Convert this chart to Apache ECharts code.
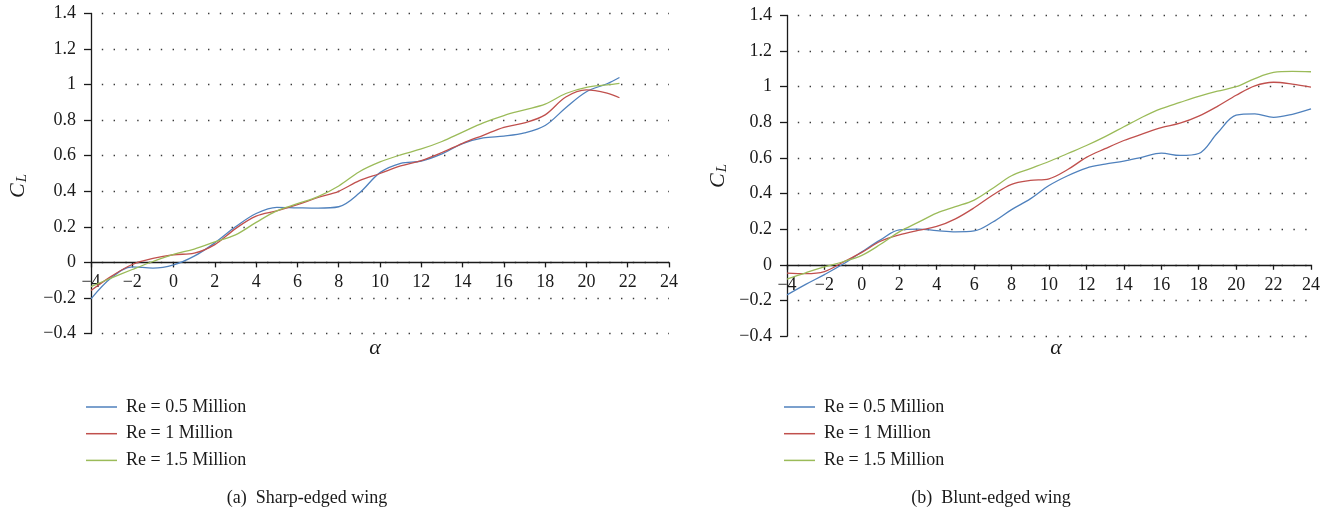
<!DOCTYPE html>
<html>
<head>
<meta charset="utf-8">
<title>Lift coefficient vs angle of attack</title>
<script src="https://cdn.jsdelivr.net/npm/echarts@6/dist/echarts.min.js"></script>
<style>
  html, body { margin: 0; padding: 0; background: #fff; }
  #chart { width: 1333px; height: 516px; }
</style>
</head>
<body>
<div id="chart"></div>
<script>
// Angle of attack (deg) sample points
const alphaSharp = [-4, -3, -2, -1, 0, 1, 2, 3, 4, 5, 6, 7, 8, 9, 10, 11, 12, 13, 14, 15, 16, 17, 18, 19, 20, 21, 21.6];
const alphaBlunt = [-4, -3, -2, -1, 0, 1, 2, 3, 4, 5, 6, 7, 8, 9, 10, 11, 12, 13, 14, 15, 16, 17, 18, 19, 20, 21, 22, 23, 24];

// Lift coefficient, sharp-edged wing
const sharpRe05 = [-0.205, -0.085, -0.025, -0.032, -0.014, 0.035, 0.11, 0.2, 0.275, 0.31, 0.307, 0.305, 0.313, 0.39, 0.505, 0.557, 0.57, 0.61, 0.668, 0.7, 0.71, 0.728, 0.77, 0.87, 0.96, 1.005, 1.04];
const sharpRe10 = [-0.158, -0.077, -0.012, 0.022, 0.043, 0.052, 0.1, 0.19, 0.26, 0.29, 0.325, 0.365, 0.4, 0.46, 0.5, 0.543, 0.573, 0.618, 0.67, 0.715, 0.76, 0.785, 0.83, 0.93, 0.97, 0.952, 0.926];
const sharpRe15 = [-0.136, -0.087, -0.04, 0.005, 0.045, 0.075, 0.115, 0.155, 0.225, 0.29, 0.33, 0.37, 0.43, 0.51, 0.565, 0.605, 0.638, 0.68, 0.733, 0.785, 0.826, 0.858, 0.89, 0.95, 0.985, 0.998, 1.007];

// Lift coefficient, blunt-edged wing
const bluntRe05 = [-0.169, -0.11, -0.055, 0.004, 0.073, 0.14, 0.196, 0.2, 0.192, 0.185, 0.19, 0.24, 0.31, 0.37, 0.445, 0.5, 0.543, 0.565, 0.582, 0.605, 0.627, 0.614, 0.625, 0.74, 0.84, 0.848, 0.828, 0.845, 0.875];
const bluntRe10 = [-0.047, -0.05, -0.038, 0.015, 0.07, 0.132, 0.168, 0.193, 0.215, 0.258, 0.32, 0.392, 0.452, 0.474, 0.483, 0.535, 0.603, 0.652, 0.698, 0.735, 0.77, 0.795, 0.835, 0.89, 0.952, 1.005, 1.025, 1.015, 0.998];
const bluntRe15 = [-0.08, -0.045, -0.012, 0.017, 0.053, 0.115, 0.185, 0.238, 0.29, 0.326, 0.363, 0.43, 0.5, 0.54, 0.58, 0.625, 0.67, 0.72, 0.775, 0.83, 0.877, 0.912, 0.946, 0.975, 1.0, 1.046, 1.08, 1.086, 1.084];

const seriesNames = ['Re = 0.5 Million', 'Re = 1 Million', 'Re = 1.5 Million'];
const seriesColors = ['#4f81bd', '#c0504d', '#9bbb59'];
const captions = ['(a)  Sharp-edged wing', '(b)  Blunt-edged wing'];

const Y_MIN = -0.4, Y_MAX = 1.4;
const SERIF = '"Liberation Serif", "DejaVu Serif", serif';
const INK = '#1a1a1a';
const minus = v => String(v).replace('-', '\u2212');
const zip = (xs, ys) => xs.map((x, i) => [x, ys[i]]);

const grids = [
  { left: 91, top: 13.5, width: 578, height: 320 },
  { left: 787, top: 15.5, width: 524, height: 320.5 }
];

// The alpha axis crosses at C_L = 0, labels travel with it
function xAxisCfg(idx) {
  const h = grids[idx].height;
  return {
    gridIndex: idx, type: 'value', min: -4, max: 24, interval: 2,
    position: 'bottom',
    offset: -h * (0 - Y_MIN) / (Y_MAX - Y_MIN),
    axisLine: { onZero: false, lineStyle: { color: INK, width: 1.3 } },
    axisTick: { show: true, length: 5, inside: false, lineStyle: { color: INK, width: 1.3 } },
    axisLabel: { margin: 11, fontFamily: SERIF, fontSize: 18, color: INK, formatter: minus },
    splitLine: { show: false }
  };
}
function yAxisCfg(idx) {
  return {
    gridIndex: idx, type: 'value', min: Y_MIN, max: Y_MAX, interval: 0.2,
    axisLine: { show: true, onZero: false, lineStyle: { color: INK, width: 1.3 } },
    axisTick: { show: true, length: 7, lineStyle: { color: INK, width: 1.3 } },
    axisLabel: { margin: 15, fontFamily: SERIF, fontSize: 18, color: INK, formatter: minus },
    splitLine: { show: true, lineStyle: { color: '#3a3a3a', width: 1.4, type: [1.4, 10.4], dashOffset: 1 } }
  };
}
function lineSeries(name, color, xs, ys, idx) {
  return {
    name, type: 'line', xAxisIndex: idx, yAxisIndex: idx,
    data: zip(xs, ys), smooth: 0.35, showSymbol: false, symbol: 'none',
    lineStyle: { color, width: 1.3 }, itemStyle: { color }, z: 3
  };
}
function legendCfg(left) {
  return {
    orient: 'vertical', left, top: 392, itemWidth: 31, itemHeight: 1.5, itemGap: 6.7,
    icon: 'rect', data: seriesNames,
    textStyle: { fontFamily: SERIF, fontSize: 18, color: INK, lineHeight: 20, padding: [0, 0, 0, 4] }
  };
}
function clText(x, y) {
  return {
    type: 'text', x, y, rotation: Math.PI / 2,
    style: {
      text: '{c|C}{s|L}', align: 'center', verticalAlign: 'middle',
      rich: {
        c: { fontFamily: SERIF, fontStyle: 'italic', fontSize: 22, fill: INK, verticalAlign: 'bottom' },
        s: { fontFamily: SERIF, fontStyle: 'italic', fontSize: 15, fill: INK, padding: [8, 0, 0, 1], verticalAlign: 'bottom' }
      }
    }
  };
}
function plainText(x, y, text, size, italic) {
  return {
    type: 'text', x, y,
    style: { text, align: 'center', verticalAlign: 'middle', fontFamily: SERIF, fontSize: size, fontStyle: italic ? 'italic' : 'normal', fill: INK }
  };
}

const chart = echarts.init(document.getElementById('chart'), null, { renderer: 'canvas' });
chart.setOption({
  animation: false,
  backgroundColor: '#ffffff',
  grid: grids,
  xAxis: [xAxisCfg(0), xAxisCfg(1)],
  yAxis: [yAxisCfg(0), yAxisCfg(1)],
  legend: [legendCfg(81), legendCfg(779)],
  series: [
    lineSeries(seriesNames[0], seriesColors[0], alphaSharp, sharpRe05, 0),
    lineSeries(seriesNames[1], seriesColors[1], alphaSharp, sharpRe10, 0),
    lineSeries(seriesNames[2], seriesColors[2], alphaSharp, sharpRe15, 0),
    lineSeries(seriesNames[0], seriesColors[0], alphaBlunt, bluntRe05, 1),
    lineSeries(seriesNames[1], seriesColors[1], alphaBlunt, bluntRe10, 1),
    lineSeries(seriesNames[2], seriesColors[2], alphaBlunt, bluntRe15, 1)
  ],
  graphic: [
    clText(18, 186),
    clText(718, 176),
    plainText(375, 348, '\u03b1', 22, true),
    plainText(1056, 348, '\u03b1', 22, true),
    plainText(307, 498, captions[0], 18, false),
    plainText(991, 498, captions[1], 18, false)
  ]
});
</script>
</body>
</html>
